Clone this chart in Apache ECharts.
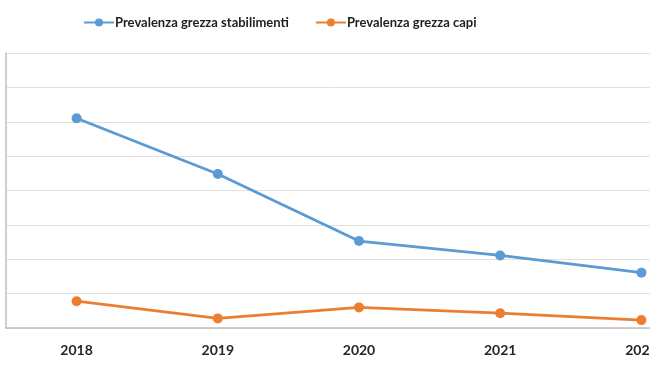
<!DOCTYPE html>
<html>
<head>
<meta charset="utf-8">
<script src="https://cdn.jsdelivr.net/npm/echarts@6/dist/echarts.min.js"></script>
<style>html,body{margin:0;padding:0;background:#fff}#c{width:650px;height:366px}</style>
</head>
<body>
<div id="c"></div>
<script>
var categories = ['2018', '2019', '2020', '2021', '2022'];
var stabilimenti = [6.1, 4.48, 2.53, 2.11, 1.61];
var capi = [0.78, 0.28, 0.6, 0.43, 0.23];
var seriesNames = ['Prevalenza grezza stabilimenti', 'Prevalenza grezza capi'];

var chart = echarts.init(document.getElementById('c'));
chart.setOption({
  animation: false,
  backgroundColor: '#fff',
  legend: {
    left: 78, top: 11,
    itemWidth: 30, itemHeight: 10, itemGap: 26,
    textStyle: { fontFamily: 'Lato', fontWeight: 'bold', fontSize: 13, color: '#1f1f1f', padding: [0,0,0,-4] },
    data: seriesNames
  },
  grid: { left: 6, top: 53, bottom: 38, right: -62, containLabel: false, outerBoundsMode: 'none' },
  xAxis: {
    type: 'category', data: categories, boundaryGap: true,
    axisTick: { show: false },
    axisLine: { lineStyle: { color: '#bfbfbf', width: 1.5 } },
    axisLabel: { fontFamily: 'Lato', fontWeight: 'bold', fontSize: 14, color: '#262626', margin: 15, hideOverlap: false }
  },
  yAxis: {
    type: 'value', min: 0, max: 8, interval: 1,
    axisLabel: { show: false },
    axisTick: { show: false },
    axisLine: { show: true, lineStyle: { color: '#bfbfbf', width: 1.5 } },
    splitLine: { lineStyle: { color: '#e0e0e0', width: 1 } }
  },
  series: [
    { name: seriesNames[0], type: 'line', data: stabilimenti, symbol: 'circle', symbolSize: 10,
      lineStyle: { color: '#5B9BD5', width: 2.8 }, itemStyle: { color: '#5B9BD5' } },
    { name: seriesNames[1], type: 'line', data: capi, symbol: 'circle', symbolSize: 10,
      lineStyle: { color: '#ED7D31', width: 2.8 }, itemStyle: { color: '#ED7D31' } }
  ]
});
</script>
</body>
</html>
